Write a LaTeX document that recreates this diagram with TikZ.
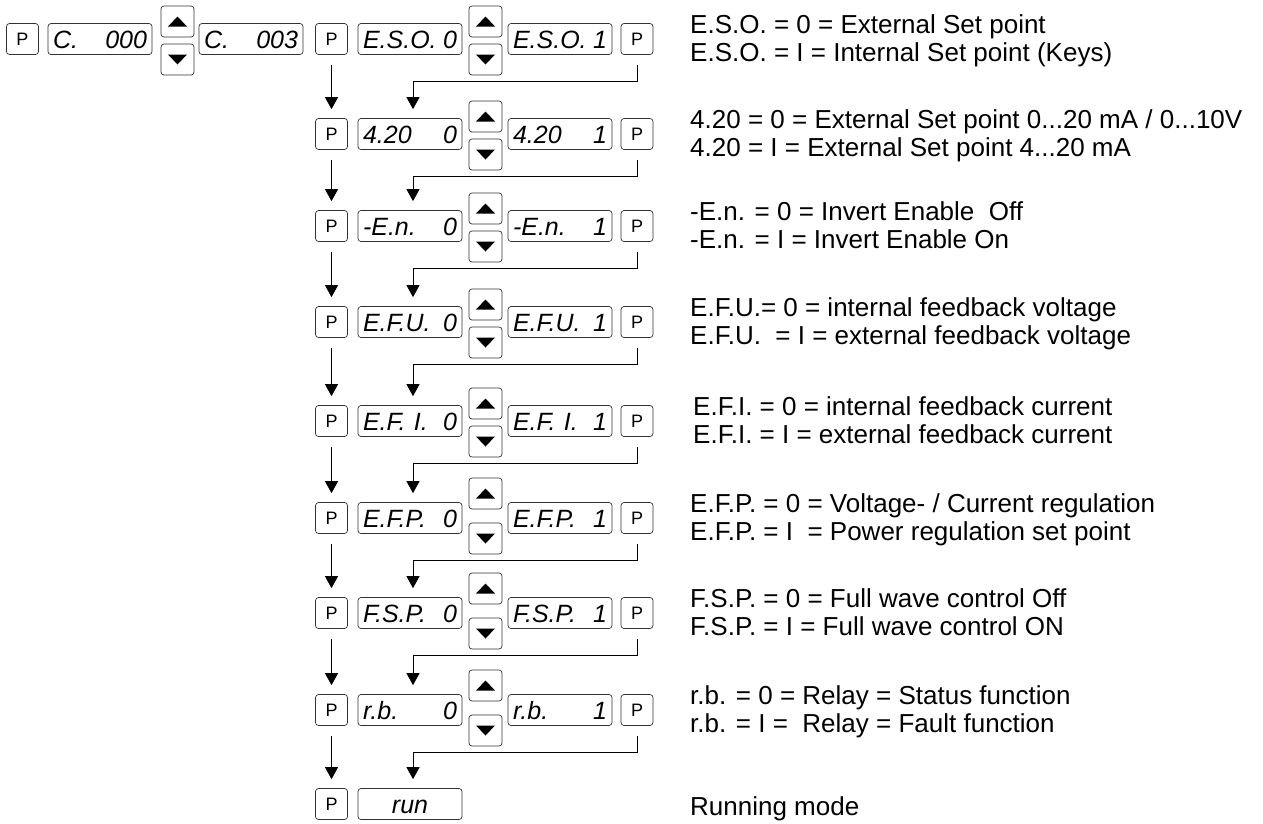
\documentclass[tikz,border=0pt]{standalone}
\usepackage{fontspec}
\setmainfont{Liberation Sans}
\usetikzlibrary{arrows.meta,positioning}

\begin{document}
\begin{tikzpicture}[x=1pt,y=-1pt,
  key/.style={draw=black!80,line width=0.7pt,rounded corners=3pt,minimum width=32pt,minimum height=31pt,inner sep=0pt,font=\fontsize{18}{18}\selectfont},
  disp/.style={draw=black!80,line width=0.7pt,rounded corners=3pt,minimum width=104pt,minimum height=31pt,inner sep=0pt,text width=94pt,align=left,text height=18pt,text depth=0pt,font=\fontsize{25}{25}\selectfont\itshape},
  btn/.style={draw=black!80,line width=0.7pt,rounded corners=3pt,minimum width=33pt,minimum height=31pt,inner sep=0pt},
  flow/.style={-{Triangle[width=13pt,length=12pt]},line width=0.8pt,shorten <=10pt,shorten >=9pt},
  info/.style={anchor=base west,inner sep=0pt,font=\fontsize{26}{26}\selectfont}]
\useasboundingbox (0,0) rectangle (1263,823);

% first row: code entry
\node[key] (k0) at (22.5,39) {P};
\node[disp] (d0) at (100,39) {C.\hfill 000};
\node[btn] (u0) at (177.5,21.5) {};
\node[btn] (w0) at (177.5,59.5) {};
\node[disp] (e0) at (251,39) {C.\hfill 003};
\fill ([shift={(-9.5,5)}]u0.center) -- ++(19,0) -- ++(-9.5,-10) -- cycle;
\fill ([shift={(-9.5,-5)}]w0.center) -- ++(19,0) -- ++(-9.5,10) -- cycle;

% parameter rows
\foreach \i/\y/\lab/\up in {1/39/E.S.O./17.5, 2/134/4.20/17.5, 3/226/-E.n./17.5,
    4/322/E.F.U./17.5, 5/421/{E.F. I.}/17.5, 6/518/E.F.P./24.5,
    7/613/F.S.P./24.5, 8/710/r.b./24.5}{
  \node[key] (k\i) at (331.5,\y) {P};
  \node[disp] (d\i) at (410,\y) {\lab\hfill 0};
  \node[btn] (u\i) at (485.5,\y-\up) {};
  \node[btn] (w\i) at (485.5,\y+20.5) {};
  \node[disp] (e\i) at (560,\y) {\lab\hfill 1};
  \node[key] (q\i) at (637,\y) {P};
  \fill ([shift={(-9.5,5)}]u\i.center) -- ++(19,0) -- ++(-9.5,-10) -- cycle;
  \fill ([shift={(-9.5,-5)}]w\i.center) -- ++(19,0) -- ++(-9.5,10) -- cycle;
}

% running mode
\node[key] (k9) at (331.5,804) {P};
\node[disp,align=center] (d9) at (410,804) {run};

\foreach \i in {1,...,8}{
  \pgfmathtruncatemacro\j{\i+1}
  \draw[flow] (k\i.south) -- (k\j.north);
  \draw[flow] (q\i.south) -- ++(0,27) -| ([xshift=3pt]d\j.north);
}

% explanations
\node[info] (t1a) at (690,33) {E.S.O. = 0 = External Set point};
\node[info] (t1b) at (690,61) {E.S.O. = I = Internal Set point (Keys)};
\node[info] (t2a) at (690,128) {4.20 = 0 = External Set point 0...20 mA / 0...10V};
\node[info] (t2b) at (690,156) {4.20 = I = External Set point 4...20 mA};
\node[info] (t3a) at (690,220) {-E.n. = 0 = Invert Enable\ \ Off};
\node[info] (t3b) at (690,248) {-E.n. = I = Invert Enable On};
\node[info] (t4a) at (690,316) {E.F.U.= 0 = internal feedback voltage};
\node[info] (t4b) at (690,344) {E.F.U.\ \ = I = external feedback voltage};
\node[info] (t5a) at (693,415) {E.F.I. = 0 = internal feedback current};
\node[info] (t5b) at (693,443) {E.F.I. = I = external feedback current};
\node[info] (t6a) at (690,512) {E.F.P. = 0 = Voltage- / Current regulation};
\node[info] (t6b) at (690,540) {E.F.P. = I\ \ = Power regulation set point};
\node[info] (t7a) at (690,607) {F.S.P. = 0 = Full wave control Off};
\node[info] (t7b) at (690,635) {F.S.P. = I = Full wave control ON};
\node[info] (t8a) at (690,704) {r.b. = 0 = Relay = Status function};
\node[info] (t8b) at (690,732) {r.b. = I =\ \ Relay = Fault function};
\node[info] (t9) at (690,815) {Running mode};
\end{tikzpicture}
\end{document}
